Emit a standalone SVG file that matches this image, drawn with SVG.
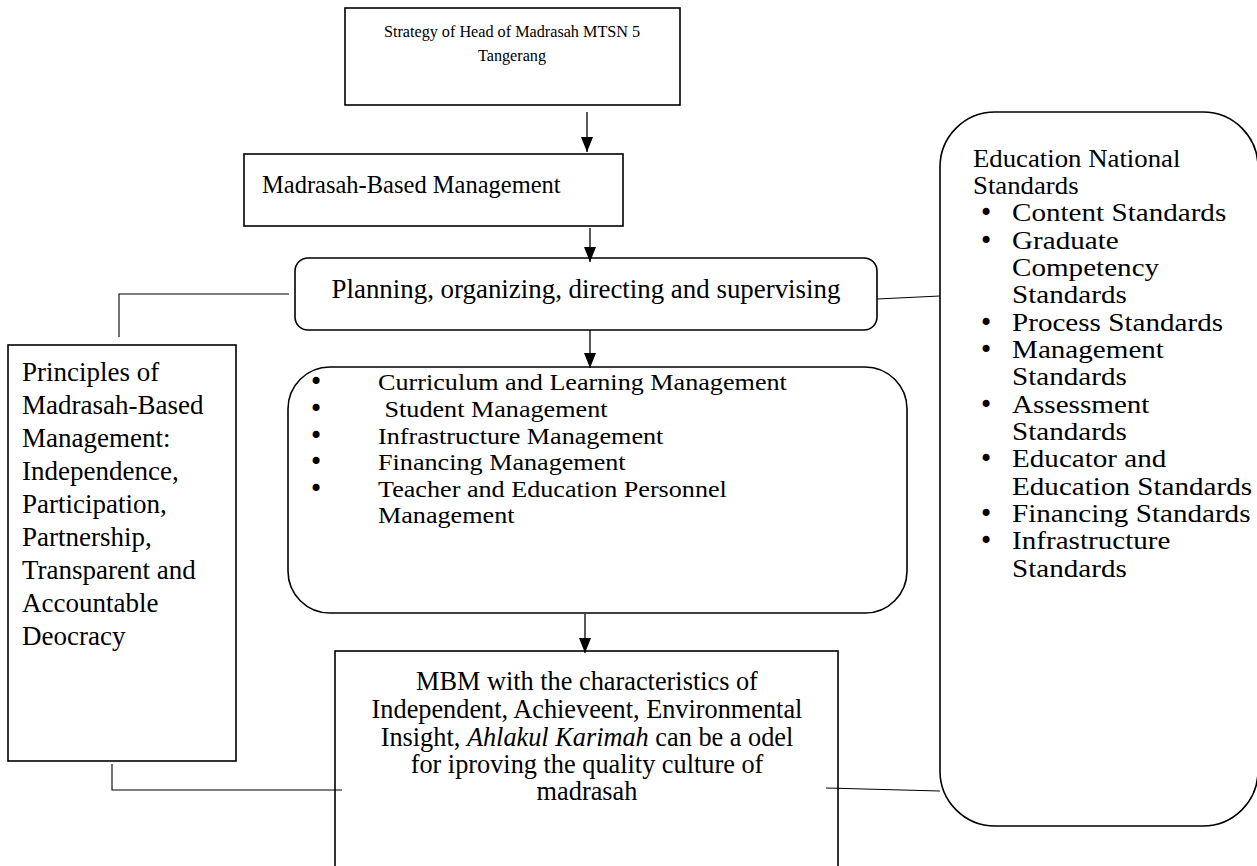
<svg xmlns="http://www.w3.org/2000/svg" width="1257" height="866" viewBox="0 0 1257 866">
<defs>
<marker id="ah" viewBox="0 0 15 12" refX="15" refY="6" markerWidth="15" markerHeight="12" markerUnits="userSpaceOnUse" orient="auto">
<path d="M0,0 L15,6 L0,12 Z" fill="#000"/>
</marker>
</defs>
<style>
.box{fill:#fff;stroke:#000;stroke-width:1.6}
.t{font-family:"Liberation Serif","Times New Roman",serif;fill:#000}
.b{font-family:"DejaVu Sans","Liberation Sans",sans-serif;font-size:24px;fill:#000}
.c{fill:none;stroke:#000;stroke-width:1.1}
.a{fill:none;stroke:#000;stroke-width:1.3}
</style>
<rect width="1257" height="866" fill="#fff"/>

<g id="n-strategy">
<rect class="box" x="345" y="8" width="335" height="97"/>
<text class="t" font-size="16.2" text-anchor="middle"><tspan x="512" y="37">Strategy of Head of Madrasah MTSN 5</tspan><tspan x="512" y="61">Tangerang</tspan></text>
</g>

<g id="n-mbm">
<rect class="box" x="244" y="154" width="379" height="72"/>
<text class="t" font-size="24.5" x="262" y="193">Madrasah-Based Management</text>
</g>

<g id="n-planning">
<rect class="box" x="295" y="258" width="582" height="72" rx="13"/>
<text class="t" font-size="26.9" x="586" y="298" text-anchor="middle">Planning, organizing, directing and supervising</text>
</g>

<g id="n-areas">
<rect class="box" x="288" y="367" width="619" height="246" rx="42"/>
<g class="b">
<text x="309" y="390">•</text>
<text x="309" y="417">•</text>
<text x="309" y="444">•</text>
<text x="309" y="470">•</text>
<text x="309" y="497">•</text>
</g>
<g class="t" font-size="24" transform="translate(378,0) scale(1.09,1)">
<text x="0" y="390">Curriculum and Learning Management</text>
<text x="6" y="417">Student Management</text>
<text x="0" y="444">Infrastructure Management</text>
<text x="0" y="470">Financing Management</text>
<text x="0" y="497">Teacher and Education Personnel</text>
<text x="0" y="523">Management</text>
</g>
</g>

<g id="n-principles">
<rect class="box" x="8" y="345" width="228" height="416"/>
<text class="t" font-size="27"><tspan x="22" y="381">Principles of</tspan><tspan x="22" y="414">Madrasah-Based</tspan><tspan x="22" y="447">Management:</tspan><tspan x="22" y="480">Independence,</tspan><tspan x="22" y="513">Participation,</tspan><tspan x="22" y="546">Partnership,</tspan><tspan x="22" y="579">Transparent and</tspan><tspan x="22" y="612">Accountable</tspan><tspan x="22" y="645">Deocracy</tspan></text>
</g>

<g id="n-result">
<rect class="box" x="335" y="651" width="503" height="230"/>
<text class="t" font-size="26.3" text-anchor="middle"><tspan x="587" y="690">MBM with the characteristics of</tspan><tspan x="587" y="718">Independent, Achieveent, Environmental</tspan><tspan x="587" y="746">Insight, <tspan font-style="italic">Ahlakul Karimah</tspan>  can be a odel</tspan><tspan x="587" y="773">for iproving the quality culture of</tspan><tspan x="587" y="800">madrasah</tspan></text>
</g>

<g id="n-standards">
<rect class="box" x="940" y="112" width="318" height="714" rx="55"/>
<g class="t" font-size="26" transform="translate(973,0) scale(1.03,1)">
<text x="0" y="167">Education National</text>
<text x="0" y="194">Standards</text>
</g>
<g class="b">
<text x="979" y="221">•</text>
<text x="979" y="249">•</text>
<text x="979" y="331">•</text>
<text x="979" y="358">•</text>
<text x="979" y="413">•</text>
<text x="979" y="467">•</text>
<text x="979" y="522">•</text>
<text x="979" y="549">•</text>
</g>
<g class="t" font-size="26" transform="translate(1012,0) scale(1.12,1)">
<text x="0" y="221">Content Standards</text>
<text x="0" y="249">Graduate</text>
<text x="0" y="276">Competency</text>
<text x="0" y="303">Standards</text>
<text x="0" y="331">Process Standards</text>
<text x="0" y="358">Management</text>
<text x="0" y="385">Standards</text>
<text x="0" y="413">Assessment</text>
<text x="0" y="440">Standards</text>
<text x="0" y="467">Educator and</text>
<text x="0" y="495">Education Standards</text>
<text x="0" y="522">Financing Standards</text>
<text x="0" y="549">Infrastructure</text>
<text x="0" y="577">Standards</text>
</g>
</g>

<g id="connectors">
<line class="a" x1="587" y1="112" x2="587" y2="152" marker-end="url(#ah)"/>
<line class="a" x1="590" y1="228" x2="590" y2="262" marker-end="url(#ah)"/>
<line class="a" x1="590" y1="330" x2="590" y2="368" marker-end="url(#ah)"/>
<line class="a" x1="585" y1="614" x2="585" y2="653" marker-end="url(#ah)"/>
<polyline class="c" points="289,294 119,294 119,337"/>
<line class="c" x1="877" y1="299" x2="940" y2="296"/>
<polyline class="c" points="112,764 112,790 342,790"/>
<line class="c" x1="826" y1="788" x2="940" y2="791"/>
</g>
</svg>
